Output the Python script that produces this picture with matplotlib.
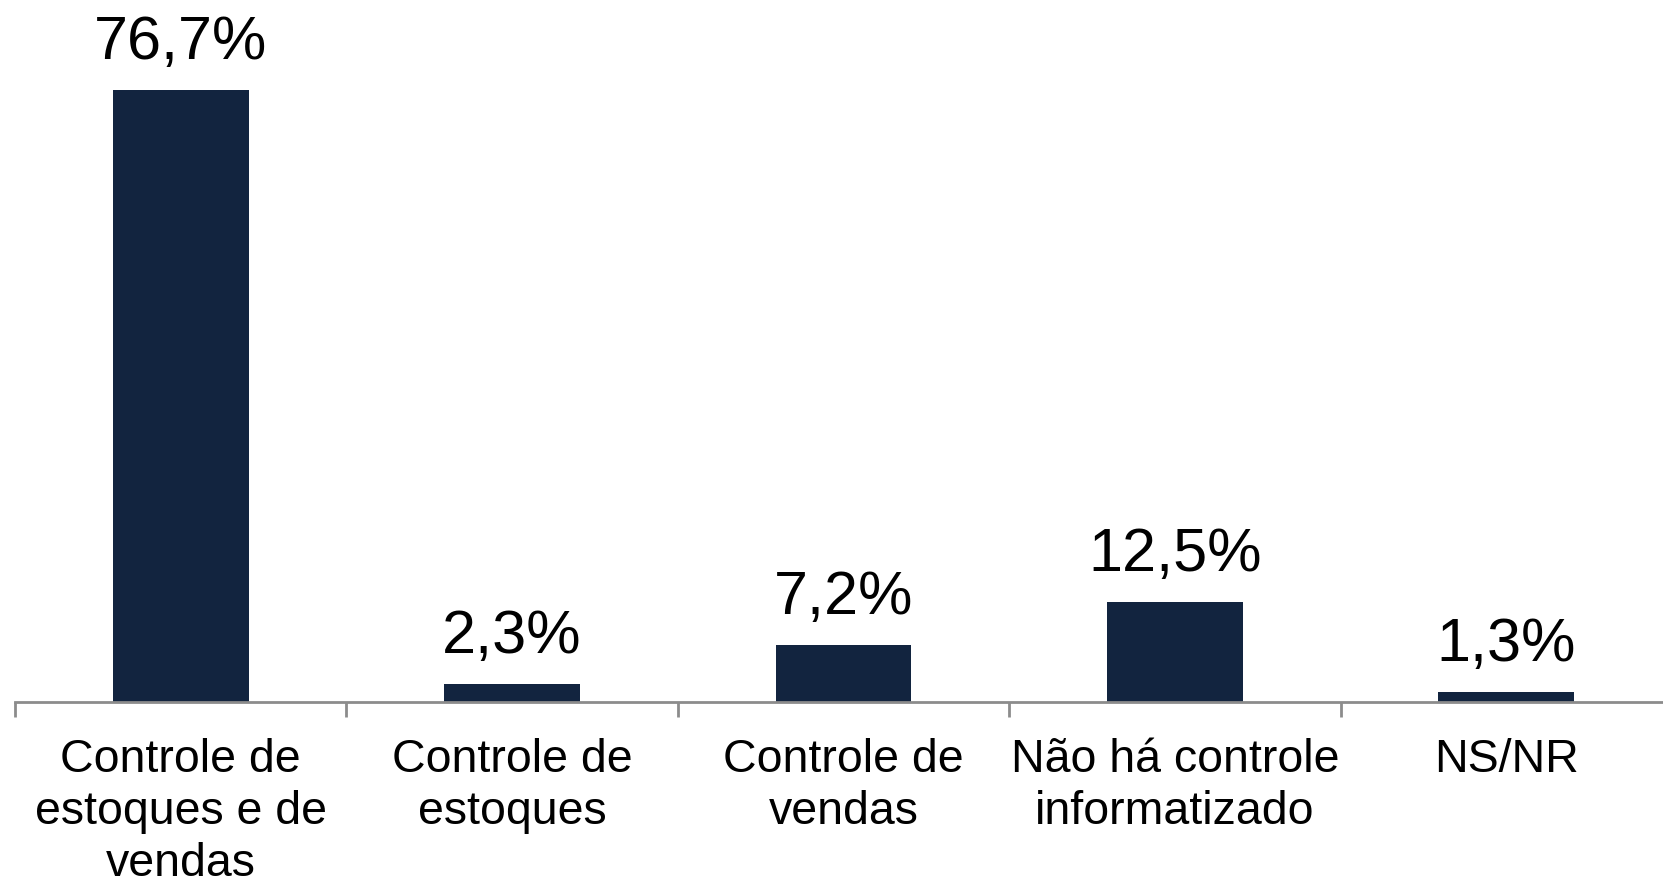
import matplotlib.pyplot as plt
import numpy as np

plt.rcParams['font.family'] = ['Liberation Sans', 'DejaVu Sans']

categorias = ["Controle de\nestoques e de\nvendas", "Controle de\nestoques", "Controle de\nvendas",
              "Não há controle\ninformatizado", "NS/NR"]
valores = [76.7, 2.3, 7.2, 12.5, 1.3]
rotulos = ["76,7%", "2,3%", "7,2%", "12,5%", "1,3%"]

fig = plt.figure(figsize=(16.63, 8.8), dpi=100)
ax = fig.add_axes([15/1663, 178/880, 1657/1663, 702/880])

x = np.arange(len(valores))
bars = ax.bar(x, valores, width=0.41, color="#12243F")
for b, r in zip(bars, rotulos):
    ax.annotate(r, (b.get_x() + b.get_width()/2, b.get_height()), xytext=(0, 13),
                textcoords="offset points", ha="center", va="bottom", fontsize=44)

ax.set_xlim(-0.5, len(valores) - 0.5)
ax.set_ylim(0, 88)
ax.set_xticks(x)
ax.set_xticklabels(categorias, fontsize=33.5, linespacing=1.24)
ax.tick_params(axis="x", which="major", length=0, pad=26)
ax.set_xticks(np.arange(len(valores) + 1) - 0.5, minor=True)
ax.tick_params(axis="x", which="minor", length=11, width=2, color="#8C8C8C")
ax.set_yticks([])
for s in ["top", "right", "left"]:
    ax.spines[s].set_visible(False)
ax.spines["bottom"].set_color("#8C8C8C")
ax.spines["bottom"].set_linewidth(2)

fig.savefig("out.png", dpi=100)
